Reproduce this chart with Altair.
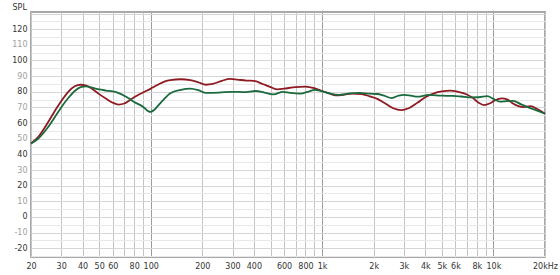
import altair as alt
import pandas as pd

# Red curve (Hz, dB SPL)
red_freq = [20, 22, 25, 28, 30, 33, 36, 39, 42, 46, 50, 55, 60, 65, 70, 75, 80, 90, 100,
            110, 120, 130, 150, 170, 190, 210, 230, 260, 290, 320, 360, 400, 450, 500, 550,
            600, 700, 800, 900, 1000, 1100, 1200, 1350, 1500, 1700, 1900, 2100, 2300, 2600,
            2900, 3200, 3600, 4000, 4500, 5000, 5600, 6200, 7000, 7600, 8200, 8800, 9500,
            10200, 11200, 12000, 13000, 14000, 15000, 16500, 18000, 20000]
red_db = [47, 51, 60, 69, 74, 80, 83.5, 84.5, 84, 81.5, 78.5, 75.5, 73, 71.8, 72.5, 74.5, 76.5, 79.5, 82,
          84.5, 86.5, 87.5, 88, 87.5, 86, 84.5, 85, 87, 88.2, 87.8, 87.2, 87, 85, 83, 81.5,
          82, 83, 83.3, 82.3, 80.5, 79, 77.8, 78.2, 78.8, 78.6, 77, 75.5, 73, 69.5,
          68.3, 69.5, 73, 76.5, 79, 80.2, 80.7, 80, 78.3, 76, 73, 71.5, 72.5,
          74.5, 75.8, 75.2, 72.5, 70.8, 70.2, 70.8, 69, 66]

# Green curve (Hz, dB SPL)
green_freq = [20, 22, 25, 28, 30, 33, 36, 39, 42, 46, 50, 55, 60, 65, 70, 75, 80, 90, 97, 100,
              105, 110, 120, 130, 150, 170, 190, 210, 250, 300, 350, 410, 460, 520, 590, 650,
              740, 850, 900, 1000, 1100, 1270, 1450, 1650, 1900, 2100, 2300, 2550, 2800, 3000,
              3300, 3600, 4200, 5000, 5800, 6500, 7400, 8200, 9200, 10000, 10900, 12000, 13000,
              14500, 16400, 18000, 20000]
green_db = [47, 50, 57, 65, 70, 76, 80.5, 83, 83.5, 82.5, 81.5, 80.8, 80.2, 79.2, 77.5, 75.5, 73.5, 70.5, 67.5, 67.2,
            68.5, 71, 75.5, 79, 81.3, 82, 81, 79.3, 79.5, 80, 79.8, 80.5, 79.5, 78.3, 80, 79.3,
            78.8, 80.5, 81.2, 80.3, 79, 78, 79, 79.3, 78.8, 78.6, 77.5, 76, 77.5, 78,
            77.5, 76.9, 78, 77.5, 77.4, 77, 76.4, 76.5, 77.2, 75.5, 73.7, 74, 74.2,
            72, 69.5, 68, 66]

series_names = ["red", "green"]
series_colors = ["#8e1b22", "#1b6a3e"]

grid_freqs = [20, 30, 40, 50, 60, 70, 80, 90, 100, 200, 300, 400, 500, 600, 700, 800, 900,
              1000, 2000, 3000, 4000, 5000, 6000, 7000, 8000, 9000, 10000, 20000]
labeled_freqs = [20, 30, 40, 50, 60, 80, 100, 200, 300, 400, 600, 800, 1000, 2000, 3000,
                 4000, 5000, 6000, 8000, 10000, 20000]
y_grid = list(range(-25, 135, 5))

df = pd.concat([
    pd.DataFrame({"f": red_freq, "db": red_db, "s": "red", "o": range(len(red_freq))}),
    pd.DataFrame({"f": green_freq, "db": green_db, "s": "green", "o": range(len(green_freq))}),
])

FONT = "DejaVu Sans"
lab_list = "[" + ",".join(str(v) for v in labeled_freqs) + "]"
x_label_expr = (
    f"indexof({lab_list}, datum.value) < 0 ? '' : "
    "(datum.value >= 20000 ? '20kHz' : (datum.value >= 1000 ? (datum.value/1000) + 'k' : '' + datum.value))"
)

x_axis = alt.Axis(
    values=grid_freqs, labelExpr=x_label_expr, grid=True,
    gridColor={"condition": {"test": "datum.value == 100 || datum.value == 1000 || datum.value == 10000",
                             "value": "#9c9c9c"}, "value": "#c4c4c4"},
    gridWidth=1, ticks=False, domain=False, labelOverlap=False, labelFlush=False,
    labelFont=FONT, labelFontSize=8, labelColor="#333333", labelPadding=5, title=None,
)
y_axis = alt.Axis(
    values=y_grid,
    labelExpr="datum.value % 10 == 0 && datum.value <= 120 ? datum.value : ''",
    labelColor={"condition": {"test": "datum.value % 20 == 0", "value": "#333333"}, "value": "#a0a0a0"},
    gridColor={"condition": {"test": "datum.value % 10 == 0", "value": "#d6d6d6"}, "value": "#e8e8e8"},
    ticks=False, domain=False, labelOverlap=False, labelFlush=False,
    labelFont=FONT, labelFontSize=8, labelPadding=4,
    title="SPL", titleAngle=0, titleAlign="left", titleBaseline="alphabetic",
    titleX=-19, titleY=-3, titleFont=FONT, titleFontSize=8, titleFontWeight="normal",
    titleColor="#333333",
)

chart = alt.Chart(df).mark_line(strokeWidth=1.8, interpolate="monotone").encode(
    x=alt.X("f:Q", scale=alt.Scale(type="log", domain=[20, 20000], nice=False), axis=x_axis),
    y=alt.Y("db:Q", scale=alt.Scale(domain=[-25.6, 131], nice=False, zero=False), axis=y_axis),
    color=alt.Color("s:N", scale=alt.Scale(domain=series_names, range=series_colors), legend=None),
    order=alt.Order("o:Q"),
).properties(
    width=514, height=245,
    autosize=alt.AutoSizeParams(type="none"),
    padding={"left": 31, "top": 12, "right": 15, "bottom": 18},
    background="white",
).configure_view(stroke="#a8a8a8", strokeWidth=2)

chart.save("out.html", embed_options={"renderer": "svg", "actions": False})
